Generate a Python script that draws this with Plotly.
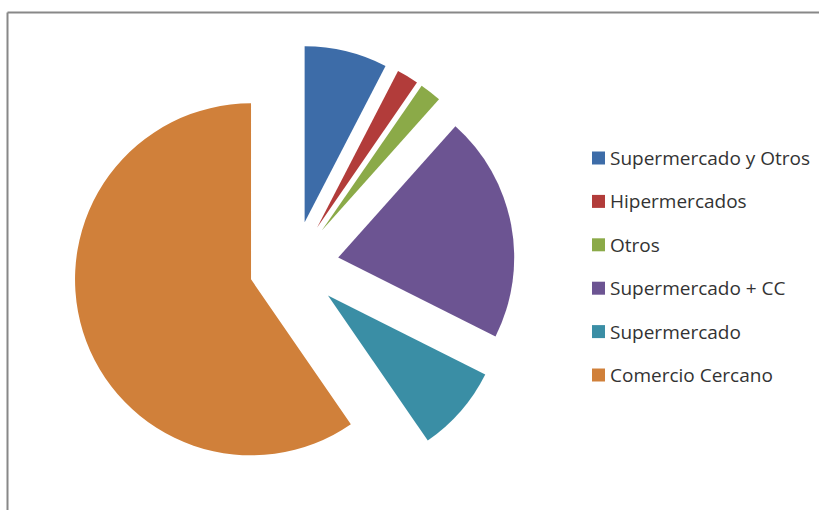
import plotly.graph_objects as go

# Shopping channel shares (%)
labels = ["Supermercado y Otros", "Hipermercados", "Otros",
          "Supermercado + CC", "Supermercado", "Comercio Cercano"]
shares = [7.6, 2.0, 2.0, 20.8, 8.0, 59.6]
colors = ["#3D6CA8", "#B23C3A", "#8BAA48", "#6C5492", "#3A8EA5", "#D0803A"]

W, H = 819, 510


def px_x(x):
    return x / W


def px_y(y):
    return 1 - y / H


# Pie geometry (pixels): centre, radius and explosion distance
cx, cy, radius, explode = 294.0, 266.0, 176.0, 45.0
pull = explode / radius
half = radius * (1 + pull)

fig = go.Figure(
    go.Pie(
        labels=labels,
        values=shares,
        sort=False,
        direction="clockwise",
        rotation=0,
        pull=[pull] * len(labels),
        marker=dict(colors=colors, line=dict(width=0)),
        textinfo="none",
        hoverinfo="label+percent",
        showlegend=False,
        domain=dict(x=[px_x(cx - half), px_x(cx + half)],
                    y=[px_y(cy + half), px_y(cy - half)]),
    )
)

shapes = []
annotations = []

# Legend: coloured squares with labels on the right
leg_x0, leg_sq, leg_text_x = 592, 13, 608
leg_y0, leg_step = 158, 43.4
for i, (lab, col) in enumerate(zip(labels, colors)):
    yc = leg_y0 + i * leg_step
    shapes.append(dict(type="rect", xref="paper", yref="paper",
                       x0=px_x(leg_x0), x1=px_x(leg_x0 + leg_sq),
                       y0=px_y(yc + leg_sq / 2), y1=px_y(yc - leg_sq / 2),
                       fillcolor=col, line=dict(width=0)))
    annotations.append(dict(xref="paper", yref="paper",
                            x=px_x(leg_text_x), y=px_y(yc),
                            xanchor="left", yanchor="middle",
                            text=lab, showarrow=False,
                            font=dict(family="'Open Sans', sans-serif",
                                      size=19, color="#333333")))

# Chart-area frame (top and left edges)
frame_col = "#888888"
shapes.append(dict(type="line", xref="paper", yref="paper",
                   x0=px_x(7.5), x1=px_x(W + 5), y0=px_y(12.5), y1=px_y(12.5),
                   line=dict(color=frame_col, width=2)))
shapes.append(dict(type="line", xref="paper", yref="paper",
                   x0=px_x(7.5), x1=px_x(7.5), y0=px_y(12.5), y1=px_y(H + 5),
                   line=dict(color=frame_col, width=2)))

fig.update_layout(
    width=W, height=H,
    margin=dict(l=0, r=0, t=0, b=0),
    paper_bgcolor="white",
    plot_bgcolor="white",
    shapes=shapes,
    annotations=annotations,
)

fig.write_html("out.html")
